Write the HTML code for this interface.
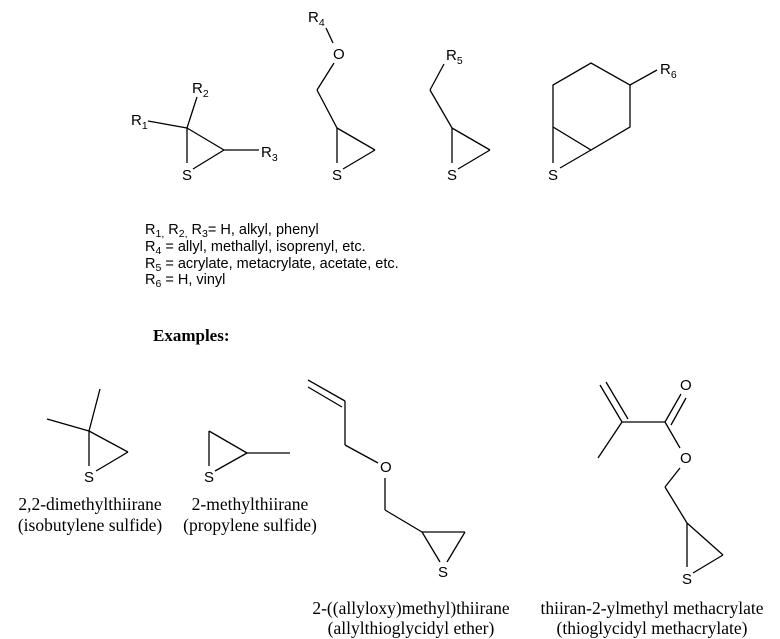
<!DOCTYPE html>
<html><head><meta charset="utf-8"><style>
html,body{margin:0;padding:0;background:#fff}
svg{display:block}
.a{font-family:"Liberation Sans",Arial,sans-serif;font-size:15px;fill:#000}
.sub{font-size:10.5px}
.t{font-family:"Liberation Sans",Arial,sans-serif;font-size:14.5px;fill:#000}
.s{font-family:"Liberation Serif","Times New Roman",serif;font-size:17.5px;fill:#000}
line,polyline{stroke:#000;stroke-width:1.3;fill:none}
</style></head><body>
<svg width="780" height="639" viewBox="0 0 780 639" xmlns="http://www.w3.org/2000/svg">
<!-- Struct 1 -->
<line x1="148" y1="121" x2="187" y2="128"/>
<line x1="197" y1="97" x2="187" y2="128"/>
<line x1="187" y1="128" x2="224" y2="150"/>
<line x1="224" y1="150" x2="259" y2="150"/>
<line x1="187" y1="128" x2="187" y2="163"/>
<line x1="193" y1="169" x2="224" y2="150"/>
<text class="a" x="131" y="125">R<tspan class="sub" dy="4">1</tspan></text>
<text class="a" x="192" y="93">R<tspan class="sub" dy="4">2</tspan></text>
<text class="a" x="261" y="157">R<tspan class="sub" dy="4">3</tspan></text>
<text class="a" x="182" y="180">S</text>
<!-- Struct 2 -->
<line x1="326" y1="28" x2="333" y2="43"/>
<line x1="334" y1="63" x2="317" y2="90"/>
<line x1="317" y1="90" x2="337" y2="128"/>
<line x1="337" y1="128" x2="375" y2="150"/>
<line x1="337" y1="128" x2="337" y2="163"/>
<line x1="343" y1="169" x2="375" y2="150"/>
<text class="a" x="308" y="22">R<tspan class="sub" dy="4">4</tspan></text>
<text class="a" x="333" y="59">O</text>
<text class="a" x="332" y="180">S</text>
<!-- Struct 3 -->
<line x1="444" y1="64" x2="430" y2="90"/>
<line x1="430" y1="90" x2="452" y2="128"/>
<line x1="452" y1="128" x2="490" y2="150"/>
<line x1="452" y1="128" x2="452" y2="163"/>
<line x1="458" y1="169" x2="490" y2="150"/>
<text class="a" x="446" y="60">R<tspan class="sub" dy="4">5</tspan></text>
<text class="a" x="447" y="180">S</text>
<!-- Struct 4 -->
<polyline points="553,127 553,85 591,63 630,85 630,127 591,150 553,127"/>
<line x1="630" y1="85" x2="657" y2="70"/>
<line x1="553" y1="127" x2="553" y2="163"/>
<line x1="560" y1="168" x2="591" y2="150"/>
<text class="a" x="660" y="74">R<tspan class="sub" dy="4">6</tspan></text>
<text class="a" x="548" y="180">S</text>
<!-- legend -->
<text class="t" x="145" y="234">R<tspan class="sub" dy="3">1,</tspan><tspan dy="-3"> R</tspan><tspan class="sub" dy="3">2,</tspan><tspan dy="-3"> R</tspan><tspan class="sub" dy="3">3</tspan><tspan dy="-3">= H, alkyl, phenyl</tspan></text>
<text class="t" x="145" y="251">R<tspan class="sub" dy="3">4</tspan><tspan dy="-3"> = allyl, methallyl, isoprenyl, etc.</tspan></text>
<text class="t" x="145" y="268">R<tspan class="sub" dy="3">5</tspan><tspan dy="-3"> = acrylate, metacrylate, acetate, etc.</tspan></text>
<text class="t" x="145" y="284">R<tspan class="sub" dy="3">6</tspan><tspan dy="-3"> = H, vinyl</tspan></text>
<text class="s" x="153" y="341" style="font-weight:bold;font-size:17px">Examples:</text>
<!-- Ex1 -->
<line x1="47" y1="419" x2="89" y2="431"/>
<line x1="100" y1="389" x2="89" y2="431"/>
<line x1="89" y1="431" x2="128" y2="452"/>
<line x1="89" y1="431" x2="89" y2="466"/>
<line x1="96" y1="471" x2="128" y2="452"/>
<text class="a" x="84" y="482">S</text>
<text class="s" x="90" y="510" text-anchor="middle">2,2-dimethylthiirane</text>
<text class="s" x="90" y="531" text-anchor="middle">(isobutylene sulfide)</text>
<!-- Ex2 -->
<line x1="209" y1="431" x2="247" y2="453"/>
<line x1="247" y1="453" x2="290" y2="453"/>
<line x1="209" y1="431" x2="209" y2="466"/>
<line x1="215" y1="471" x2="247" y2="453"/>
<text class="a" x="204" y="482">S</text>
<text class="s" x="250" y="510" text-anchor="middle">2-methylthiirane</text>
<text class="s" x="250" y="531" text-anchor="middle">(propylene sulfide)</text>
<!-- Ex3 -->
<line x1="308" y1="380" x2="345" y2="401"/>
<line x1="308" y1="387" x2="342" y2="407"/>
<line x1="345" y1="401" x2="345" y2="445"/>
<line x1="345" y1="445" x2="378" y2="463"/>
<line x1="385" y1="478" x2="385" y2="510"/>
<line x1="385" y1="510" x2="422" y2="532"/>
<line x1="422" y1="532" x2="465" y2="532"/>
<line x1="422" y1="532" x2="440" y2="562"/>
<line x1="447" y1="562" x2="465" y2="532"/>
<text class="a" x="380" y="472">O</text>
<text class="a" x="438" y="577">S</text>
<text class="s" x="411" y="614" text-anchor="middle">2-((allyloxy)methyl)thiirane</text>
<text class="s" x="411" y="634" text-anchor="middle">(allylthioglycidyl ether)</text>
<!-- Ex4 -->
<line x1="600" y1="385" x2="622" y2="422"/>
<line x1="606" y1="382" x2="628" y2="419"/>
<line x1="622" y1="422" x2="598" y2="458"/>
<line x1="622" y1="422" x2="665" y2="422"/>
<line x1="665" y1="422" x2="681" y2="394"/>
<line x1="671" y1="425" x2="686" y2="398"/>
<line x1="665" y1="422" x2="680" y2="448"/>
<line x1="680" y1="468" x2="665" y2="487"/>
<line x1="665" y1="487" x2="687" y2="523"/>
<line x1="687" y1="523" x2="723" y2="555"/>
<line x1="687" y1="523" x2="687" y2="567"/>
<line x1="693" y1="573" x2="723" y2="555"/>
<text class="a" x="680" y="390">O</text>
<text class="a" x="680" y="463">O</text>
<text class="a" x="682" y="584">S</text>
<text class="s" x="652" y="614" text-anchor="middle">thiiran-2-ylmethyl methacrylate</text>
<text class="s" x="652" y="634" text-anchor="middle">(thioglycidyl methacrylate)</text>
</svg>
</body></html>
